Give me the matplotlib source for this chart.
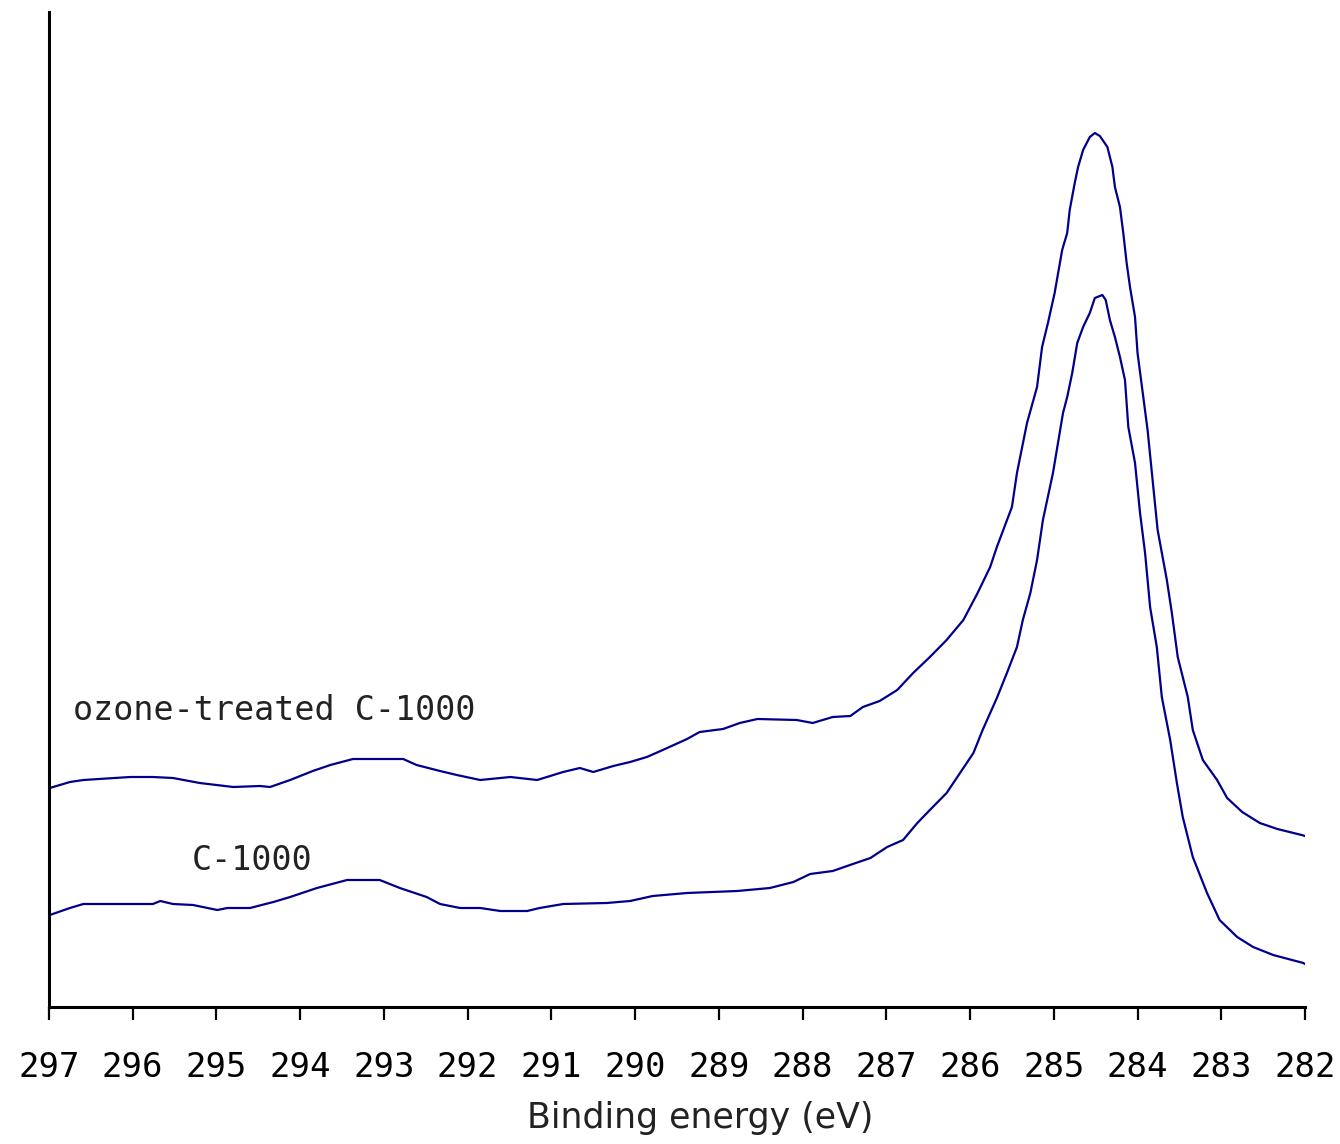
import matplotlib
matplotlib.use("Agg")
import matplotlib.pyplot as plt
import numpy as np

plt.rcParams['font.family'] = ['DejaVu Sans Mono', 'DejaVu Sans']

# binding energy (eV) and intensity (a.u.)
energy_ozone = [296.99, 296.75, 296.59, 296.03, 295.76, 295.52, 295.20, 294.80, 294.48, 294.36,
                294.12, 293.85, 293.64, 293.37, 292.77, 292.61, 292.33, 292.13, 291.85, 291.49,
                291.17, 290.86, 290.66, 290.50, 290.26, 290.06, 289.86, 289.67, 289.38, 289.23,
                288.95, 288.75, 288.54, 288.07, 287.88, 287.64, 287.43, 287.28, 287.08, 286.87,
                286.68, 286.48, 286.28, 286.08, 285.91, 285.76, 285.68, 285.50, 285.44, 285.32,
                285.20, 285.14, 285.07, 284.99, 284.90, 284.84, 284.81, 284.75, 284.71, 284.65,
                284.57, 284.51, 284.45, 284.36, 284.30, 284.27, 284.21, 284.17, 284.13, 284.09,
                284.03, 284.00, 283.95, 283.88, 283.82, 283.76, 283.65, 283.59, 283.52, 283.40,
                283.34, 283.22, 283.05, 282.93, 282.75, 282.54, 282.33, 282.04, 282.00]
int_ozone = [219, 225, 227, 230, 230, 229, 224, 220, 221, 220,
             227, 236, 242, 248, 248, 242, 236, 232, 227, 230,
             227, 235, 239, 235, 241, 245, 250, 257, 268, 275,
             278, 284, 288, 287, 284, 290, 291, 300, 306, 317,
             334, 350, 367, 387, 414, 440, 460, 500, 534, 584,
             620, 660, 684, 714, 757, 774, 797, 824, 840, 857,
             870, 874, 871, 860, 840, 820, 800, 774, 744, 720,
             690, 654, 622, 577, 527, 477, 427, 394, 350, 310,
             277, 247, 227, 209, 195, 184, 178, 172, 171]

energy_c1000 = [296.99, 296.75, 296.59, 295.76, 295.67, 295.52, 295.28, 294.99, 294.87, 294.60,
                294.32, 294.12, 293.80, 293.44, 293.05, 292.81, 292.49, 292.33, 292.09, 291.85,
                291.61, 291.29, 291.14, 290.86, 290.34, 290.06, 289.79, 289.38, 288.78, 288.39,
                288.11, 287.91, 287.64, 287.40, 287.19, 286.99, 286.80, 286.63, 286.48, 286.28,
                286.12, 285.96, 285.85, 285.68, 285.56, 285.44, 285.37, 285.28, 285.20, 285.13,
                285.01, 284.89, 284.84, 284.78, 284.72, 284.65, 284.57, 284.51, 284.42, 284.38,
                284.33, 284.27, 284.21, 284.15, 284.11, 284.03, 283.97, 283.91, 283.85, 283.77,
                283.71, 283.61, 283.53, 283.46, 283.34, 283.17, 283.02, 282.81, 282.62, 282.38,
                282.02, 282.00]
int_c1000 = [92, 99, 103, 103, 106, 103, 102, 97, 99, 99,
             105, 110, 119, 127, 127, 119, 110, 103, 99, 99,
             96, 96, 99, 103, 104, 106, 111, 114, 116, 119,
             125, 133, 136, 143, 149, 160, 167, 184, 197, 214,
             234, 254, 277, 309, 334, 360, 387, 414, 447, 487,
             534, 594, 610, 634, 664, 680, 694, 709, 712, 707,
             687, 670, 650, 627, 580, 544, 494, 454, 400, 360,
             310, 267, 224, 190, 150, 114, 87, 70, 60, 52,
             44, 43]

xticks = np.arange(282, 298, 1)

fig = plt.figure(figsize=(13.4, 11.44), dpi=100)
ax = fig.add_axes([49/1340, 1 - 1007/1144, (1305-49)/1340, (1007-12)/1144])

line_col = '#00008c'
ax.plot(energy_ozone, int_ozone, color=line_col, lw=1.6)
ax.plot(energy_c1000, int_c1000, color=line_col, lw=1.6)

ax.set_xlim(297, 282)
ax.set_ylim(0, 995)
ax.set_xticks(xticks)
ax.set_xticklabels([str(t) for t in xticks])
ax.set_yticks([])

for s in ['top', 'right']:
    ax.spines[s].set_visible(False)
for s in ['left', 'bottom']:
    ax.spines[s].set_linewidth(2.2)
    ax.spines[s].set_color('black')
ax.tick_params(axis='x', direction='out', length=9.5, width=1.6, pad=22,
               labelsize=24.5, colors='black')

ax.text(73/1340, 1 - 720/1144, 'ozone-treated C-1000', transform=fig.transFigure,
        fontsize=24, color='#222222', ha='left', va='baseline')
ax.text(192/1340, 1 - 870/1144, 'C-1000', transform=fig.transFigure,
        fontsize=24, color='#222222', ha='left', va='baseline')

fig.text(700/1340, 1 - 1128/1144, 'Binding energy (eV)', fontsize=25,
         family='DejaVu Sans', color='#222222', ha='center', va='baseline')

fig.savefig('out.png', dpi=100, facecolor='white')
